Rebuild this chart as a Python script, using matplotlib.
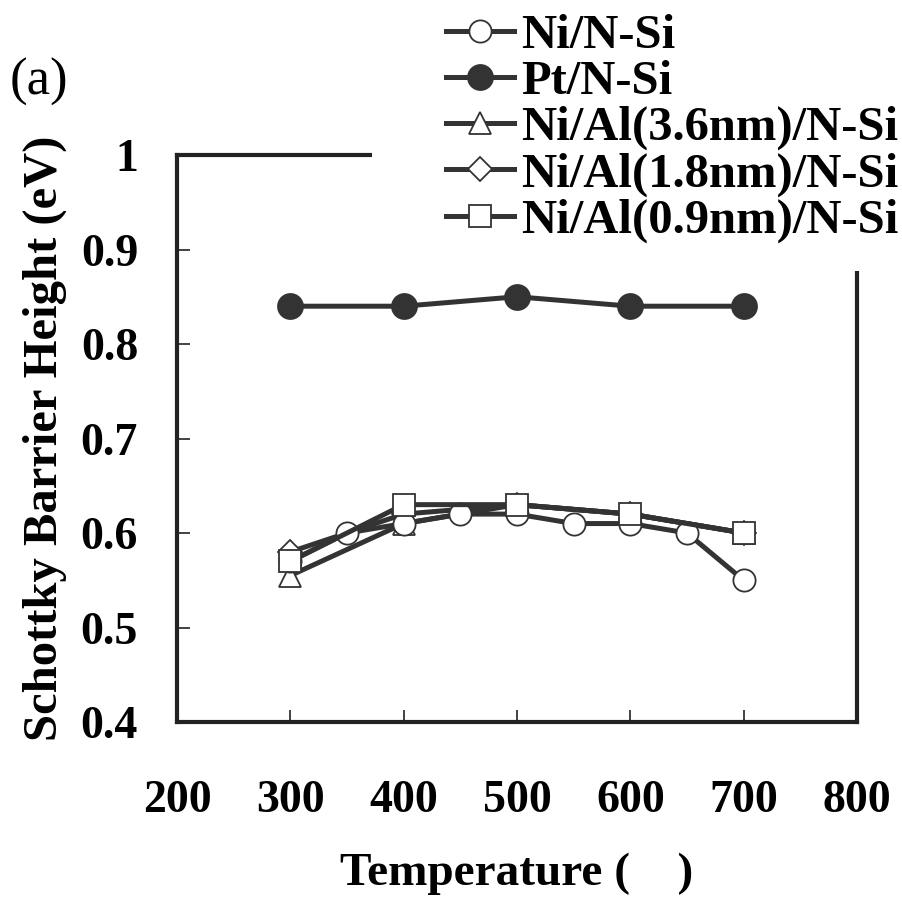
import matplotlib
matplotlib.use('Agg')
import matplotlib.pyplot as plt
from matplotlib.patches import Rectangle

# Data
temp_ni = [300, 350, 400, 450, 500, 550, 600, 650, 700]
sbh_ni = [0.57, 0.60, 0.61, 0.62, 0.62, 0.61, 0.61, 0.60, 0.55]

temp = [300, 400, 500, 600, 700]
sbh_pt = [0.84, 0.84, 0.85, 0.84, 0.84]
sbh_al36 = [0.555, 0.61, 0.63, 0.62, 0.60]
sbh_al18 = [0.58, 0.62, 0.63, 0.62, 0.60]
sbh_al09 = [0.57, 0.63, 0.63, 0.62, 0.60]

x_ticks = [200, 300, 400, 500, 600, 700, 800]
y_ticks = [0.4, 0.5, 0.6, 0.7, 0.8, 0.9, 1.0]
y_ticklabels = ['0.4', '0.5', '0.6', '0.7', '0.8', '0.9', '1']

plt.rcParams['font.family'] = ['Liberation Serif', 'DejaVu Serif']
plt.rcParams['font.weight'] = 'bold'

W, H = 902, 897
fig = plt.figure(figsize=(W / 100, H / 100), dpi=100)
ax = fig.add_axes([177 / W, 1 - 722 / H, (857 - 177) / W, (722 - 155) / H])

lc = '#333333'
common = dict(color=lc, lw=3.6, markersize=16, markeredgewidth=1.3,
              markeredgecolor=lc, markerfacecolor='white')

ax.plot(temp, sbh_al36, marker='^', label='Ni/Al(3.6nm)/N-Si', zorder=3, **common)
ax.plot(temp, sbh_al18, marker='D', label='Ni/Al(1.8nm)/N-Si', zorder=3,
        **{**common, 'markersize': 12})
ax.plot(temp_ni, sbh_ni, marker='o', label='Ni/N-Si', zorder=4, **common)
ax.plot(temp, sbh_al09, marker='s', label='Ni/Al(0.9nm)/N-Si', zorder=5, **common)
ax.plot(temp, sbh_pt, marker='o', label='Pt/N-Si', zorder=3,
        **{**common, 'markerfacecolor': lc, 'markersize': 18})

ax.set_xlim(200, 800)
ax.set_ylim(0.4, 1.0)
ax.set_xticks(x_ticks)
ax.set_yticks(y_ticks)
ax.set_yticklabels(y_ticklabels)

for s in ax.spines.values():
    s.set_linewidth(3)
    s.set_color('#222222')

ax.tick_params(axis='both', direction='in', length=9, width=1.2, color='#222222',
               labelsize=33)
ax.tick_params(axis='x', pad=42)
ax.tick_params(axis='y', pad=28)

ax.set_xlabel('Temperature (    )', fontsize=34, fontweight='bold', labelpad=22)
ax.set_ylabel('Schottky Barrier Height (eV)', fontsize=35, fontweight='bold', labelpad=10)

fig.text(10 / W, 1 - 82 / H, '(a)', fontsize=38, fontweight='normal', va='center', ha='left')

# white block behind legend that hides part of the frame
fig.patches.append(Rectangle((372 / W, 1 - 271 / H), 1, 1, transform=fig.transFigure,
                             facecolor='white', edgecolor='none', zorder=2))

h, l = ax.get_legend_handles_labels()
order = ['Ni/N-Si', 'Pt/N-Si', 'Ni/Al(3.6nm)/N-Si', 'Ni/Al(1.8nm)/N-Si', 'Ni/Al(0.9nm)/N-Si']
hd = dict(zip(l, h))
leg = fig.legend([hd[k] for k in order], order, loc='upper left',
                 bbox_to_anchor=(446 / W, 1 - 14 / H), frameon=False,
                 fontsize=35, handlelength=1.4, handletextpad=0.15,
                 labelspacing=0.04, borderaxespad=0, borderpad=0, markerscale=1.0)
leg.set_zorder(3)

fig.savefig('out.png', dpi=100)
